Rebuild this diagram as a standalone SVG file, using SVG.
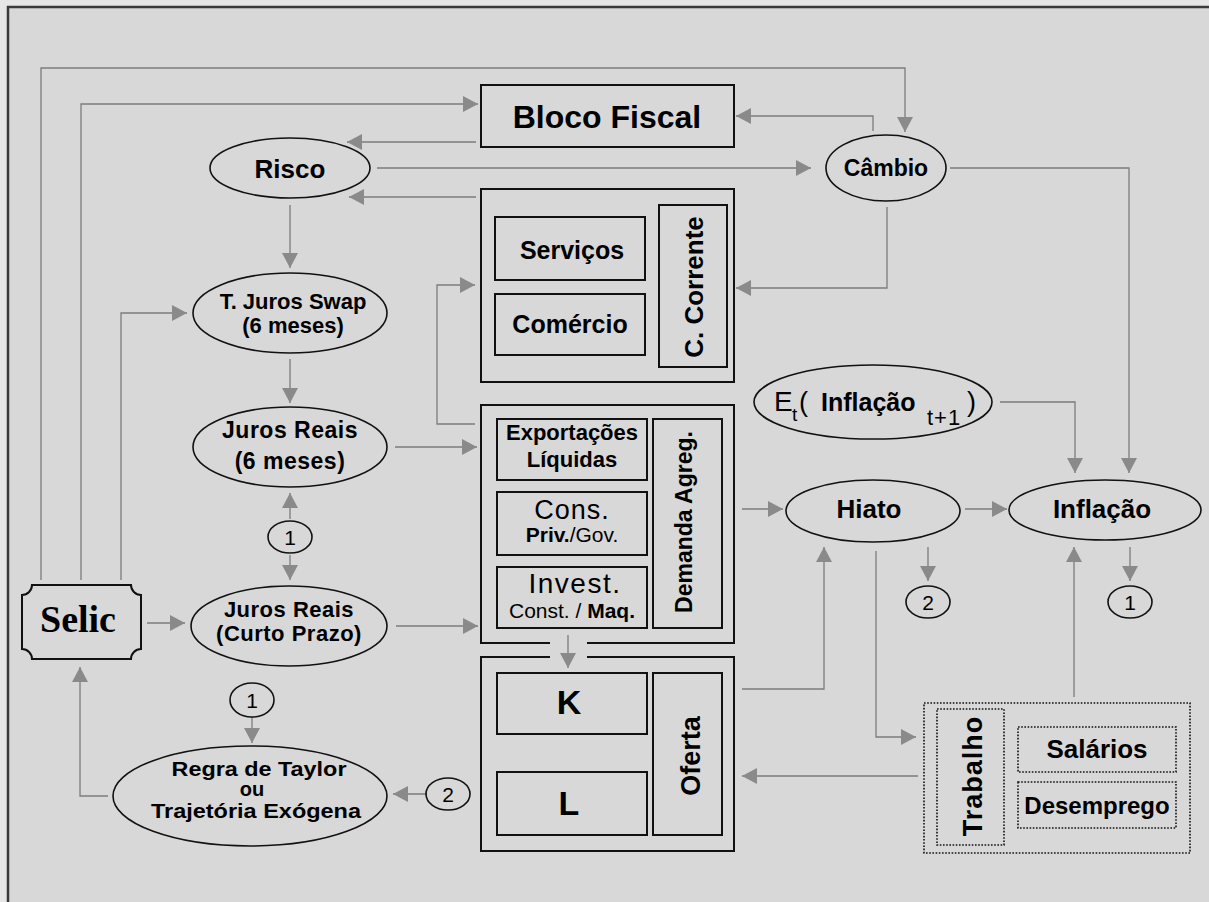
<svg xmlns="http://www.w3.org/2000/svg" width="1209" height="902" viewBox="0 0 1209 902">
<style>
text{font-family:"Liberation Sans",Arial,sans-serif;fill:#000;text-anchor:middle}
.b{font-weight:bold}
.s{text-anchor:start}
.box{fill:none;stroke:#111;stroke-width:2}
.ell{fill:none;stroke:#111;stroke-width:1.6}
.dot{fill:none;stroke:#111;stroke-width:1.6;stroke-dasharray:1.6 1.6}
.con path{fill:none;stroke:#7c7c7c;stroke-width:1.3;marker-end:url(#ah)}
</style>
<defs>
<marker id="ah" markerUnits="userSpaceOnUse" markerWidth="16" markerHeight="18" refX="15" refY="8" orient="auto">
<path d="M0,0 L15,8 L0,16 z" fill="#8a8a8a"/>
</marker>
</defs>
<rect x="0" y="0" width="1209" height="902" fill="#e6e6e6"/>
<rect x="8" y="7" width="1201" height="895" fill="#d8d8d8"/>
<path d="M8,902 V7 H1209" fill="none" stroke="#3a3a3a" stroke-width="2.5"/>

<g id="connectors" class="con">
<path d="M41,580 V68 H905 V132"/>
<path d="M81,580 V104 H478"/>
<path d="M121,580 V313 H187"/>
<path d="M476,142 H347"/>
<path d="M476,197 H349"/>
<path d="M377,168 H811"/>
<path d="M873,131 V116 H736"/>
<path d="M887,207 V288 H736"/>
<path d="M950,168 H1129 V473"/>
<path d="M290,205 V268"/>
<path d="M290,359 V403"/>
<path d="M290,519 V493"/>
<path d="M290,555 V580"/>
<path d="M395,447 H477"/>
<path d="M147,623 H185"/>
<path d="M396,626 H478"/>
<path d="M475,424 H437 V285 H475"/>
<path d="M568,635 V668"/>
<path d="M742,509 H783"/>
<path d="M965,509 H1007"/>
<path d="M1000,402 H1075 V473"/>
<path d="M928,547 V581"/>
<path d="M1130,547 V581"/>
<path d="M742,689 H824 V547"/>
<path d="M876,551 V737 H916"/>
<path d="M1074,697 V547"/>
<path d="M918,776 H742"/>
<path d="M252,717 V743"/>
<path d="M427,794 H393"/>
<path d="M108,796 H80 V667"/>
</g>

<g id="bloco-fiscal">
<rect class="box" x="481" y="85" width="253" height="62"/>
<text class="b" x="607" y="128" font-size="32">Bloco Fiscal</text>
</g>

<g id="risco">
<ellipse class="ell" cx="290" cy="168" rx="80" ry="30"/>
<text class="b" x="290" y="178" font-size="26">Risco</text>
</g>

<g id="cambio">
<ellipse class="ell" cx="886" cy="168" rx="60" ry="33"/>
<text class="b" x="886" y="176" font-size="23">Câmbio</text>
</g>

<g id="conta-corrente">
<rect class="box" x="481" y="189" width="253" height="193"/>
<rect class="box" x="495" y="217" width="150" height="63"/>
<text class="b" x="572" y="259" font-size="25">Serviços</text>
<rect class="box" x="495" y="294" width="150" height="61"/>
<text class="b" x="570" y="333" font-size="25">Comércio</text>
<rect class="box" x="659" y="205" width="68" height="162"/>
<text class="b" font-size="26" transform="translate(703,287) rotate(-90)">C. Corrente</text>
</g>

<g id="swap">
<ellipse class="ell" cx="290" cy="313" rx="97" ry="40"/>
<text class="b" x="293" y="309" font-size="22">T. Juros Swap</text>
<text class="b" x="293" y="333" font-size="22">(6 meses)</text>
</g>

<g id="juros-6m">
<ellipse class="ell" cx="290" cy="447" rx="97" ry="40"/>
<text class="b" x="290" y="438" font-size="23" letter-spacing="0.5">Juros Reais</text>
<text class="b" x="290" y="469" font-size="23" letter-spacing="0.5">(6 meses)</text>
</g>

<g id="ref-1a">
<ellipse class="ell" cx="290" cy="537" rx="22" ry="16"/>
<text x="290" y="545" font-size="21">1</text>
</g>

<g id="juros-cp">
<ellipse class="ell" cx="289" cy="626" rx="98" ry="40"/>
<text class="b" x="289" y="617" font-size="22" letter-spacing="0.5">Juros Reais</text>
<text class="b" x="289" y="641" font-size="22" letter-spacing="0.5">(Curto Prazo)</text>
</g>

<g id="selic">
<path class="box" d="M32,585 H131 A10,10 0 0 0 141,595 V649 A10,10 0 0 0 131,659 H32 A10,10 0 0 0 22,649 V595 A10,10 0 0 0 32,585 Z"/>
<text class="b" x="78" y="632" font-size="38" style="font-family:'Liberation Serif','Times New Roman',serif">Selic</text>
</g>

<g id="ref-1b">
<ellipse class="ell" cx="252" cy="700" rx="22" ry="17"/>
<text x="252" y="708" font-size="21">1</text>
</g>

<g id="regra">
<ellipse class="ell" cx="250" cy="796" rx="137" ry="50"/>
<text class="b" x="259" y="776" font-size="20" textLength="175" lengthAdjust="spacingAndGlyphs">Regra de Taylor</text>
<text class="b" x="252" y="796" font-size="20">ou</text>
<text class="b" x="256" y="818" font-size="20" textLength="210" lengthAdjust="spacingAndGlyphs">Trajetória Exógena</text>
</g>

<g id="ref-2a">
<ellipse class="ell" cx="448" cy="794" rx="22" ry="16"/>
<text x="448" y="802" font-size="21">2</text>
</g>

<g id="demanda">
<path class="box" d="M550,643 H481 V405 H734 V643 H587"/>
<rect class="box" x="497" y="419" width="150" height="61"/>
<text class="b" x="572" y="440" font-size="22">Exportações</text>
<text class="b" x="572" y="467" font-size="22">Líquidas</text>
<rect class="box" x="497" y="492" width="150" height="63"/>
<text x="572" y="519" font-size="27" letter-spacing="1">Cons.</text>
<text x="572" y="542" font-size="21"><tspan class="b">Priv.</tspan>/Gov.</text>
<rect class="box" x="497" y="567" width="150" height="61"/>
<text x="575" y="593" font-size="28" letter-spacing="1.5">Invest.</text>
<text x="572" y="618" font-size="21">Const. / <tspan class="b">Maq.</tspan></text>
<rect class="box" x="653" y="419" width="69" height="209"/>
<text class="b" font-size="23" transform="translate(692,522) rotate(-90)">Demanda Agreg.</text>
</g>

<g id="oferta">
<path class="box" d="M550,657 H481 V851 H734 V657 H587"/>
<rect class="box" x="497" y="673" width="150" height="61"/>
<text class="b" x="569" y="714" font-size="34">K</text>
<rect class="box" x="497" y="772" width="150" height="63"/>
<text class="b" x="569" y="815" font-size="34">L</text>
<rect class="box" x="653" y="673" width="69" height="162"/>
<text class="b" font-size="27" transform="translate(700,756) rotate(-90)">Oferta</text>
</g>

<g id="expectativa">
<ellipse class="ell" cx="873" cy="402" rx="119" ry="37"/>
<text class="s" x="774" y="411" font-size="28">E</text>
<text class="s" x="792" y="421" font-size="19">t</text>
<text class="s" x="799" y="411" font-size="27">(</text>
<text class="s b" x="821" y="411" font-size="25">Inflação</text>
<text class="s" x="927" y="425" font-size="22" letter-spacing="1">t+1</text>
<text class="s" x="967" y="411" font-size="27">)</text>
</g>

<g id="hiato">
<ellipse class="ell" cx="873" cy="511" rx="87" ry="31"/>
<text class="b" x="869" y="518" font-size="26">Hiato</text>
</g>

<g id="inflacao">
<ellipse class="ell" cx="1105" cy="510" rx="96" ry="30"/>
<text class="b" x="1102" y="518" font-size="26">Inflação</text>
</g>

<g id="ref-2b">
<ellipse class="ell" cx="928" cy="602" rx="22" ry="16"/>
<text x="928" y="610" font-size="21">2</text>
</g>

<g id="ref-1c">
<ellipse class="ell" cx="1130" cy="602" rx="22" ry="16"/>
<text x="1130" y="610" font-size="21">1</text>
</g>

<g id="trabalho">
<rect class="dot" x="924" y="703" width="266" height="150"/>
<rect class="dot" x="937" y="709" width="67" height="136"/>
<text class="b" font-size="27" letter-spacing="1" transform="translate(982,776) rotate(-90)">Trabalho</text>
<rect class="dot" x="1018" y="727" width="158" height="45"/>
<text class="b" x="1097" y="758" font-size="26">Salários</text>
<rect class="dot" x="1018" y="782" width="158" height="46"/>
<text class="b" x="1097" y="814" font-size="24">Desemprego</text>
</g>
</svg>
